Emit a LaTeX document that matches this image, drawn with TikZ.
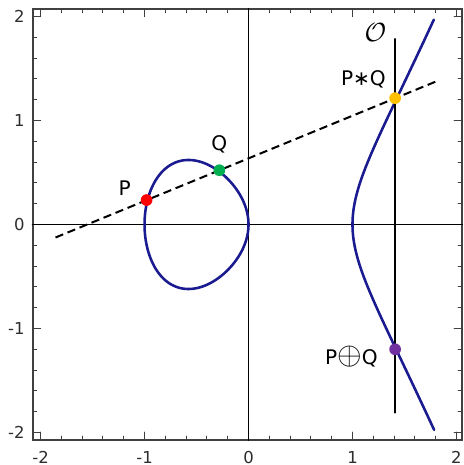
\documentclass[tikz,border=0pt]{standalone}
\usepackage{fontspec}
\setmainfont{DejaVu Sans}
\usepackage{amsmath,amssymb}
\usepackage{tikz}
\usepackage{xcolor}
\definecolor{curveblue}{RGB}{26,26,145}
\definecolor{frameGray}{RGB}{64,64,64}
\definecolor{dotRed}{RGB}{255,0,0}
\definecolor{dotGreen}{RGB}{0,176,80}
\definecolor{dotGold}{RGB}{255,192,0}
\definecolor{dotPurple}{RGB}{112,48,160}
\tikzset{
  ptdot/.style={circle,inner sep=0pt,minimum size=6.4pt},
  ptlabel/.style={inner sep=0pt,font=\fontsize{11}{13}\selectfont},
  ticklabel/.style={inner sep=0pt,font=\fontsize{9}{11}\selectfont,frameGray!70!black}
}

\begin{document}
\begin{tikzpicture}[x=2cm,y=2cm,line cap=round]
\useasboundingbox (-2.39,-2.313) rectangle (2.063,2.159);
\fill[white] (-2.39,-2.313) rectangle (2.063,2.159);
% frame and ticks
\draw[frameGray,line width=1.1pt,line cap=butt] (-2.077,-2.074) rectangle (2.055,2.076);
\foreach \t in {-2,-1.8,...,2.01}{
  \draw[frameGray,line width=0.5pt] (\t,-2.074) -- (\t,-2.034);
  \draw[frameGray,line width=0.5pt] (\t,2.076) -- (\t,2.036);
  \draw[frameGray,line width=0.5pt] (-2.077,\t) -- (-2.037,\t);
  \draw[frameGray,line width=0.5pt] (2.055,\t) -- (2.015,\t);
}
\foreach \t in {-2,-1,0,1,2}{
  \draw[frameGray,line width=0.5pt] (\t,-2.074) -- (\t,-1.997);
  \draw[frameGray,line width=0.5pt] (\t,2.076) -- (\t,1.999);
  \draw[frameGray,line width=0.5pt] (-2.077,\t) -- (-2.0,\t);
  \draw[frameGray,line width=0.5pt] (2.055,\t) -- (1.978,\t);
}
\node[ticklabel] (xm2) at (-2,-2.24) {-2};
\node[ticklabel] (xm1) at (-1,-2.24) {-1};
\node[ticklabel] (x0) at (0,-2.24) {0};
\node[ticklabel] (x1) at (1,-2.24) {1};
\node[ticklabel] (x2) at (2,-2.24) {2};
\node[ticklabel,anchor=east] (ym2) at (-2.15,-2) {-2};
\node[ticklabel,anchor=east] (ym1) at (-2.15,-1) {-1};
\node[ticklabel,anchor=east] (y0) at (-2.15,0) {0};
\node[ticklabel,anchor=east] (y1) at (-2.15,1) {1};
\node[ticklabel,anchor=east] (y2) at (-2.15,2) {2};
% axes
\draw[black,line width=0.9pt] (-2.077,0) -- (2.055,0);
\draw[black,line width=0.9pt] (0,-2.074) -- (0,2.076);
% curve y^2 = x^3 - x
\draw[curveblue,line width=1.4pt,samples=200,domain=0:360,smooth]
  plot ({-0.5-0.5*cos(\x)},{0.5*sin(\x)*sqrt(1.5+0.5*cos(\x))});
\draw[curveblue,line width=1.4pt,samples=120,domain=-0.886:0.886,smooth]
  plot ({1+\x*\x},{\x*sqrt((1+\x*\x)*(2+\x*\x))});
% chord and vertical line
\coordinate (lineL) at (-1.856,-0.125);
\coordinate (lineR) at (1.81,1.378);
\draw[black,line width=1.1pt,dash pattern=on 4.5pt off 2.6pt,line cap=butt] (lineL) -- (lineR);
\coordinate (vertB) at (1.41,-1.81);
\coordinate (vertT) at (1.41,1.785);
\draw[black,line width=0.9pt] (vertB) -- (vertT);
% points
\node[ptdot,fill=dotRed] (P) at (-0.98,0.235) {};
\node[ptdot,fill=dotGreen] (Q) at (-0.28,0.522) {};
\node[ptdot,fill=dotGold] (PQ) at (1.41,1.215) {};
\node[ptdot,fill=dotPurple] (PpQ) at (1.41,-1.2) {};
\node[ptlabel] (Plab) at (-1.19,0.35) {P};
\node[ptlabel] (Qlab) at (-0.28,0.775) {Q};
\node[ptlabel] (PQlab) at (1.105,1.395) {P∗Q};
\node[ptlabel] (PpQlab) at (0.99,-1.27) {P{\fontsize{16}{16}\selectfont$\oplus$}Q};
\node[ptlabel] (Olab) at (1.22,1.85) {\fontsize{14}{14}\selectfont$\mathcal{O}$};
\end{tikzpicture}
\end{document}
